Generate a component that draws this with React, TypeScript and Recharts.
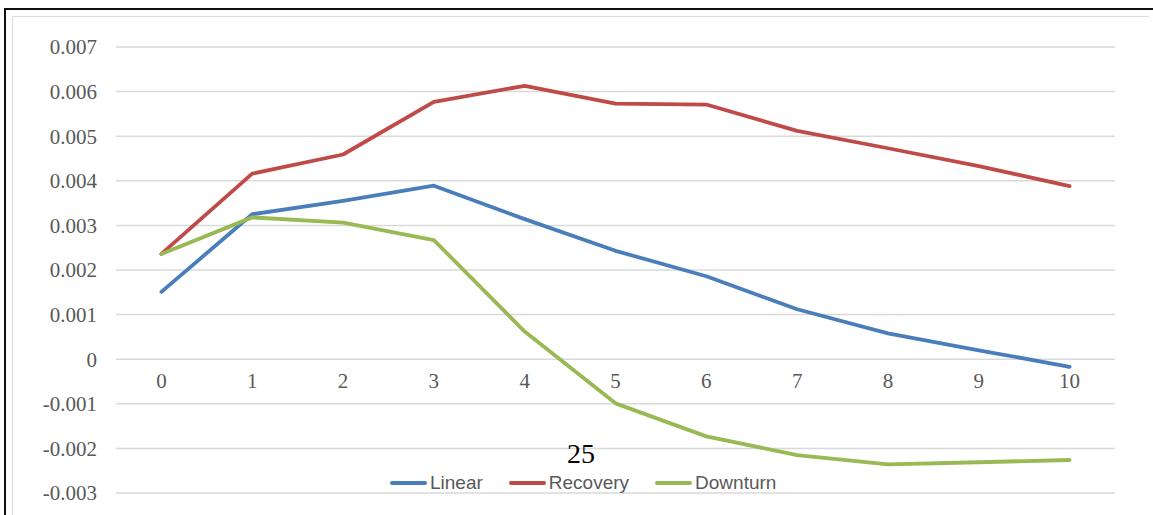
import React from "react";
import {
  CartesianGrid,
  LabelList,
  Legend,
  Line,
  LineChart,
  XAxis,
  YAxis,
} from "recharts";

const periods = ["0", "1", "2", "3", "4", "5", "6", "7", "8", "9", "10"];
const linear = [0.00151, 0.00325, 0.00355, 0.00389, 0.00314, 0.00243, 0.00186, 0.00112, 0.00058, 0.0002, -0.00017];
const recovery = [0.00236, 0.00416, 0.00459, 0.00577, 0.00613, 0.00573, 0.00571, 0.00512, 0.00473, 0.00433, 0.00388];
const downturn = [0.00236, 0.00318, 0.00306, 0.00267, 0.00062, -0.00099, -0.00173, -0.00215, -0.00236, -0.00231, -0.00226];
const yTicks = [-0.003, -0.002, -0.001, 0, 0.001, 0.002, 0.003, 0.004, 0.005, 0.006, 0.007];

const seriesList = [
  { key: "linear", name: "Linear", color: "#4a7ebb" },
  { key: "recovery", name: "Recovery", color: "#be4b48" },
  { key: "downturn", name: "Downturn", color: "#98b954" },
];

const data = periods.map((p, i) => ({
  period: p,
  linear: linear[i],
  recovery: recovery[i],
  downturn: downturn[i],
  baseline: 0,
}));

const serif = "'Liberation Serif', 'Times New Roman', serif";
const sans = "'Liberation Sans', Arial, sans-serif";

function formatTick(value: number) {
  if (value === 0) return "0";
  return value.toFixed(3);
}

function LegendContent() {
  return (
    <div style={{ display: "flex", alignItems: "center", paddingLeft: 390 }}>
      {seriesList.map((s) => (
        <div key={s.key} style={{ display: "flex", alignItems: "center", marginRight: 26 }}>
          <span
            style={{
              display: "inline-block",
              width: 37,
              height: 4,
              borderRadius: 2,
              background: s.color,
              marginRight: 3,
            }}
          />
          <span style={{ fontFamily: sans, fontSize: 19, color: "#595959" }}>{s.name}</span>
        </div>
      ))}
    </div>
  );
}

export default function App() {
  return (
    <div style={{ position: "absolute", left: 0, top: 0, width: 1153, height: 515, overflow: "hidden", background: "#fff" }}>
      <div
        style={{
          position: "absolute",
          left: 4,
          top: 8,
          width: 1200,
          height: 600,
          borderTop: "2px solid #111",
          borderLeft: "2px solid #111",
        }}
      />
      <div
        style={{
          position: "absolute",
          left: 12,
          top: 16,
          width: 1136,
          height: 600,
          borderTop: "1.5px solid #dedede",
          borderLeft: "1.5px solid #dedede",
        }}
      />
      <div style={{ position: "absolute", left: 0, top: 0 }}>
        <LineChart width={1153} height={515} data={data} margin={{ top: 47, right: 38, bottom: 22, left: 36 }}>
          <CartesianGrid vertical={false} stroke="#d9d9d9" strokeWidth={1.5} />
          <XAxis dataKey="period" scale="band" hide />
          <YAxis
            width={80}
            domain={[-0.003, 0.007]}
            ticks={yTicks}
            tickFormatter={formatTick}
            axisLine={false}
            tickLine={false}
            tickMargin={13}
            tick={{ fill: "#595959", fontSize: 21, fontFamily: serif }}
          />
          <Legend
            verticalAlign="middle"
            align="center"
            layout="horizontal"
            content={<LegendContent />}
            wrapperStyle={{ top: 472, left: 0, width: 1153 }}
          />
          <Line
            dataKey="baseline"
            stroke="none"
            dot={false}
            activeDot={false}
            legendType="none"
            isAnimationActive={false}
          >
            <LabelList
              dataKey="period"
              position="bottom"
              offset={14}
              fill="#595959"
              fontSize={21}
              fontFamily={serif}
            />
          </Line>
          {seriesList.map((s) => (
            <Line
              key={s.key}
              dataKey={s.key}
              name={s.name}
              stroke={s.color}
              strokeWidth={3.8}
              strokeLinejoin="round"
              strokeLinecap="round"
              dot={false}
              isAnimationActive={false}
            />
          ))}
        </LineChart>
      </div>
      <div
        style={{
          position: "absolute",
          left: 567,
          top: 440,
          fontFamily: serif,
          fontSize: 28,
          lineHeight: "28px",
          color: "#000",
        }}
      >
        25
      </div>
    </div>
  );
}
